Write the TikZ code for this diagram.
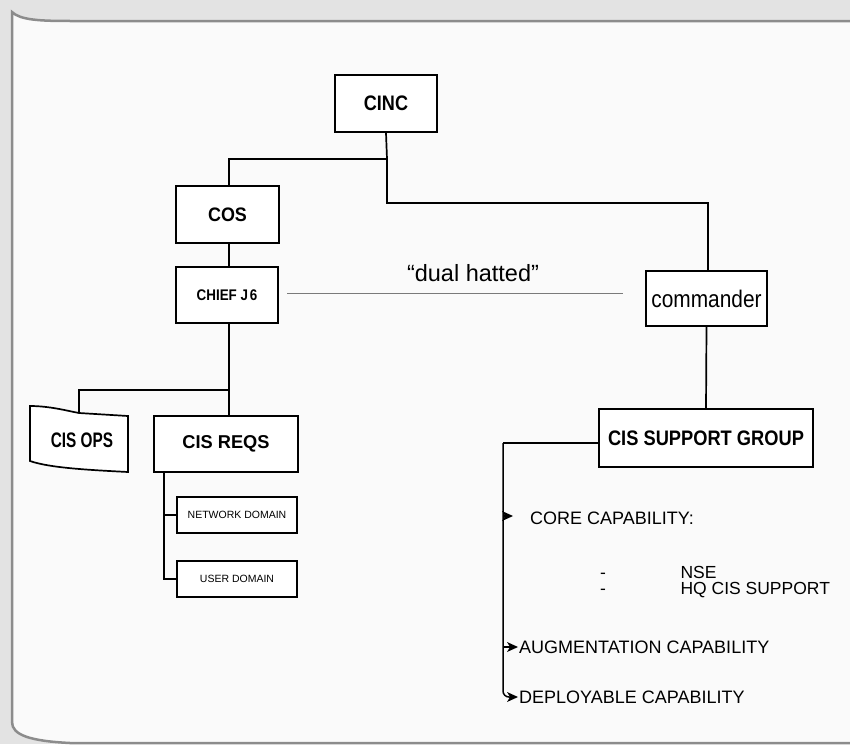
\documentclass[tikz,border=0pt]{standalone}
\usepackage{fontspec}
\setmainfont{Liberation Sans}
\usetikzlibrary{calc}
\definecolor{pagebg}{HTML}{FAFAFA}
\definecolor{margin}{HTML}{E3E3E3}
\definecolor{edge}{HTML}{8C8C8C}
\definecolor{hatline}{HTML}{7A7A7A}
\newcommand{\hs}[2]{\scalebox{#1}[1]{#2}}
\newcommand{\fs}[1]{\fontsize{#1}{#1}\selectfont}

\begin{document}
\begin{tikzpicture}[x=1pt,y=-1pt,
  box/.style={draw=black,line width=1.7pt,fill=white,inner sep=0pt,align=center},
  link/.style={draw=black,line width=1.7pt},
  capline/.style={draw=black,line width=1.5pt},
  captext/.style={anchor=west,inner ysep=0pt,font=\fs{18}},
  frame/.style={draw=edge,line width=2.5pt}]

% page and its curled edge
\useasboundingbox (0,0) rectangle (850,744);
\fill[margin] (0,0) rectangle (850,744);
\fill[pagebg] (12,12) .. controls (20,20) and (40,21) .. (70,21) -- (850,21)
   -- (850,744) -- (70,744) .. controls (30,741) and (12,735) .. (12,722) -- cycle;
\draw[frame] (12,722) -- (12,12) .. controls (20,20) and (40,21) .. (70,21) -- (850,21);
\draw[frame] (12,722) .. controls (12,735) and (30,741) .. (70,743) -- (850,743);

% boxes
\node[box,minimum width=102pt,minimum height=57pt] (cinc) at (386,103.5)
  {\bfseries\fs{21}\hs{0.86}{CINC}};
\node[box,minimum width=103pt,minimum height=57pt] (cos) at (227.5,214.5)
  {\bfseries\fs{19.5}\hs{0.92}{COS}};
\node[box,minimum width=102pt,minimum height=56pt] (chief) at (227,295)
  {\bfseries\fs{15.4}\hs{0.87}{CHIEF J\kern2pt 6}};
\node[box,minimum width=144pt,minimum height=56pt] (reqs) at (226,444)
  {\bfseries\fs{18.6}\hs{0.98}{CIS REQS}};
\node[box,minimum width=120pt,minimum height=36pt] (netdom) at (237,515)
  {\fs{10.5}NETWORK DOMAIN};
\node[box,minimum width=120pt,minimum height=36pt] (userdom) at (237,579)
  {\fs{10.5}USER DOMAIN};
\node[box,minimum width=121pt,minimum height=55pt] (cmdr) at (706.5,298.5)
  {\fs{24}\hs{0.87}{commander}};
\node[box,minimum width=214pt,minimum height=58pt] (cissg) at (706,438)
  {\bfseries\fs{21}\hs{0.87}{CIS SUPPORT GROUP}};

% CIS OPS sits on a curled corner of the sheet
\draw[line width=1.7pt,fill=white] (30,406) .. controls (50,406) and (68,411) .. (79,413)
   -- (128,416) -- (128,472) .. controls (90,470) and (50,468) .. (30,461) -- cycle;
\node[inner sep=0pt] (ops) at (82,440) {\bfseries\fs{21}\hs{0.73}{CIS OPS}};
\coordinate (opstop) at (79,413);

% chain of command
\coordinate (j1) at (387,159);
\coordinate (j2) at (387,203);
\coordinate (j3) at (229,390);
\draw[link] (cinc.south) -- (j1) -| ([xshift=1.5pt]cos.north);
\draw[link] (j1) -- (j2) -| ([xshift=1.5pt]cmdr.north);
\draw[link] ([xshift=1.5pt]cos.south) -- ([xshift=2pt]chief.north);
\draw[link] ([xshift=2pt]chief.south) -- (j3) -| (opstop);
\draw[link] (j3) -- ([xshift=3pt]reqs.north);
\draw[link] (cmdr.south) -- (cissg.north);

% domains under CIS REQS
\coordinate (rq) at (164,472);
\draw[link] (rq) |- (userdom.west);
\draw[link] (netdom.west -| rq) -- (netdom.west);

% dual hatted link
\coordinate (dhl) at (287,293);
\coordinate (dhr) at (623,293);
\draw[hatline,line width=1pt] (dhl) -- (dhr);
\node[font=\fs{23.5},inner sep=0pt] (dual) at (473,273) {“dual hatted”};

% capabilities of the support group
\node[captext,inner xsep=17pt] (core) at (513,518) {CORE CAPABILITY:};
\node[captext,font=\fs{17.5}] (nse) at (677,572.5) {NSE};
\node[captext,font=\fs{17.5}] (hq) at (677,590.5) {HQ CIS SUPPORT};
\node[font=\fs{17.5},anchor=base,inner sep=0pt] (d1) at (nse.base -| 603,0) {-};
\node[font=\fs{17.5},anchor=base,inner sep=0pt] (d2) at (hq.base -| 603,0) {-};
\node[captext,inner xsep=1pt] (aug) at (518,647) {AUGMENTATION CAPABILITY};
\node[captext,inner xsep=1pt] (dep) at (518,697) {DEPLOYABLE CAPABILITY};

\coordinate (tap) at (503,443);
\coordinate (coretip) at ([yshift=2pt]core.west);
\draw[link] ([yshift=-5pt]cissg.west) -- (tap);
\draw[capline,rounded corners=6pt] (tap) |- ([xshift=-6pt]dep.west);
\draw[capline] (coretip -| tap) -- ([xshift=-6pt]coretip);
\draw[capline] (aug.west -| tap) -- ([xshift=-6pt]aug.west);
% arrowheads
\foreach \t in {coretip,aug.west,dep.west}
  \fill (\t) -- ++(-11,-5) -- ++(3,5) -- ++(-3,5) -- cycle;
\end{tikzpicture}
\end{document}
